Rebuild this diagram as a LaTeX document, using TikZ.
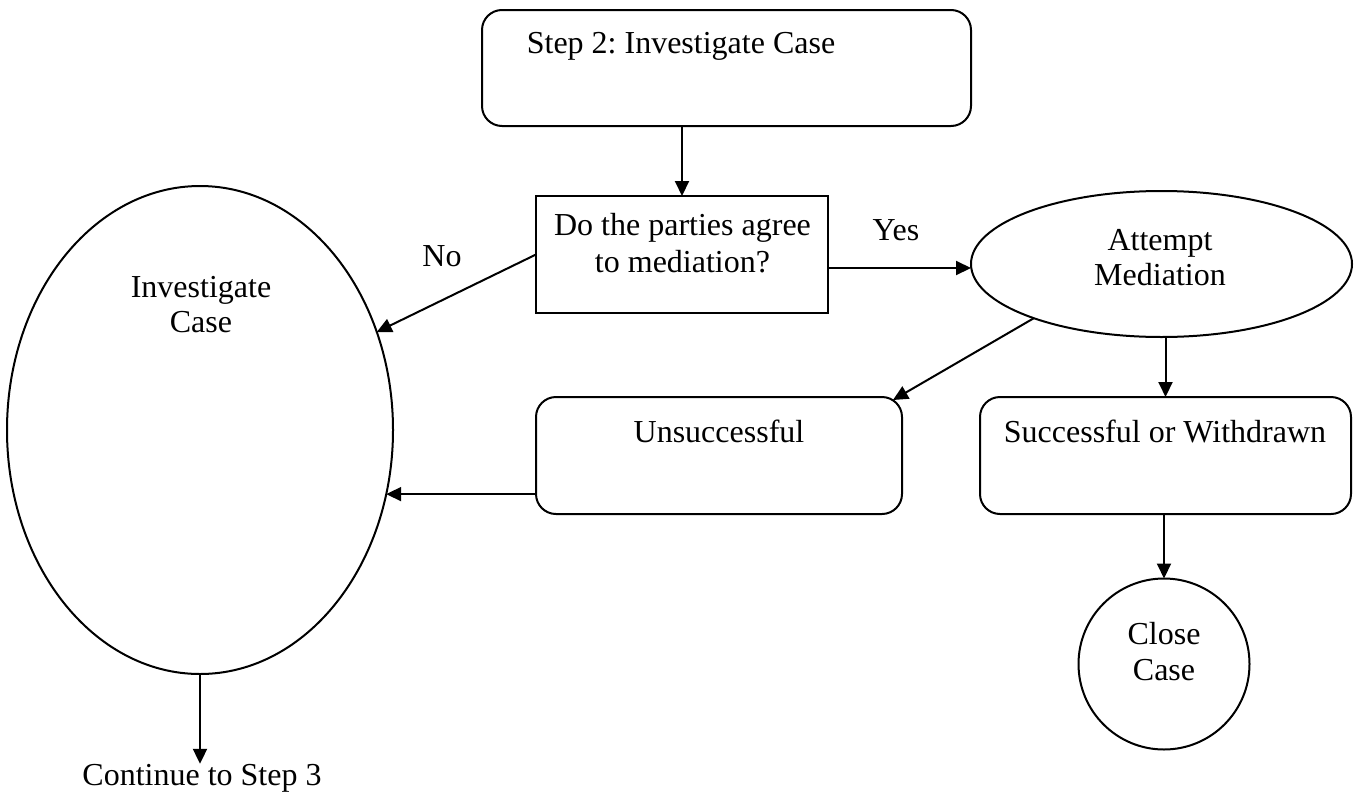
\documentclass[tikz,border=0pt]{standalone}
\usepackage{fontspec}
\setmainfont{Liberation Serif}
\usetikzlibrary{arrows.meta,shapes.geometric}
\frenchspacing
\begin{document}
\begin{tikzpicture}[x=1pt,y=-1pt,
  line width=2pt,
  every node/.style={font=\fontsize{32}{37}\selectfont, inner sep=0pt, outer sep=0pt},
  rbox/.style={draw, rectangle, rounded corners=20pt},
  sbox/.style={draw, rectangle},
  oval/.style={draw, ellipse},
  round/.style={draw, circle},
  txt/.style={anchor=base, align=center},
  arr/.style={-{Triangle[length=15pt,width=14pt]}}
]
\useasboundingbox (0,0) rectangle (1354,798);

% shapes
\node[rbox, minimum width=489pt, minimum height=116pt] (top) at (726.5,68) {};
\node[sbox, minimum width=292pt, minimum height=117pt] (dec) at (682,254.5) {};
\node[oval, minimum width=386pt, minimum height=488pt] (inv) at (200,430) {};
\node[oval, minimum width=381pt, minimum height=146pt] (att) at (1161.5,264) {};
\node[rbox, minimum width=366pt, minimum height=117pt] (uns) at (719,455.5) {};
\node[rbox, minimum width=371pt, minimum height=117pt] (suc) at (1165.5,455.5) {};
\node[round, minimum size=171pt] (close) at (1164,664) {};

% texts
\node[txt] (ttop) at (681,53) {Step 2: Investigate Case};
\node[txt] (tdec1) at (682.5,235) {Do the parties agree};
\node[txt] (tdec2) at (682.5,272) {to mediation?};
\node[txt] (tinv1) at (201,297) {Investigate};
\node[txt] (tinv2) at (201,332) {Case};
\node[txt] (tatt1) at (1160,250) {Attempt};
\node[txt] (tatt2) at (1160,285) {Mediation};
\node[txt] (tuns) at (719,442) {Unsuccessful};
\node[txt] (tsuc) at (1165,442) {Successful or Withdrawn};
\node[txt] (tclose1) at (1164,644) {Close};
\node[txt] (tclose2) at (1164,680) {Case};
\node[txt] (no) at (442,266) {No};
\node[txt] (yes) at (896,240) {Yes};
\node[txt] (cont) at (202,785) {Continue to Step 3};

% connectors
\draw[arr] (dec.north |- top.south) -- (dec.north);
\draw[arr] ([yshift=-13.5pt]dec.east) -- ([yshift=-13.5pt]dec.east -| att.west);
\draw[arr] (dec.west) -- (inv.29);
\draw[arr] (att.203) -- ([xshift=-9pt,yshift=-3pt]uns.north east);
\draw[arr] (suc.north |- att.south) -- (suc.north);
\draw[arr] (inv.-19.6 -| uns.west) -- (inv.-19.6);
\draw[arr] (close.north |- suc.south) -- (close.north);
\draw[arr] (inv.south) -- (inv.south |- cont.north);
\end{tikzpicture}
\end{document}
